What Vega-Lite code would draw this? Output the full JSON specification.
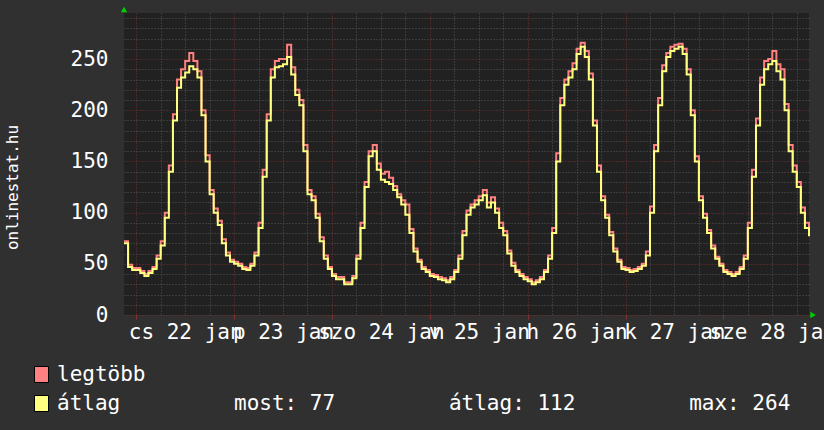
{
  "$schema": "https://vega.github.io/schema/vega-lite/v6.json",
  "width": 685,
  "height": 302,
  "autosize": {"type": "none"},
  "padding": {"left": 124, "top": 13, "right": 15, "bottom": 115},
  "background": "#303030",
  "config": {"view": {"fill": "#212121", "stroke": null}, "font": "DejaVu Sans Mono"},
  "data": {"values": [
    {"t":21,"legtöbb":72,"átlag":70},{"t":22,"legtöbb":49,"átlag":47},{"t":23,"legtöbb":46,"átlag":44},
    {"t":24,"legtöbb":46,"átlag":44},{"t":25,"legtöbb":43,"átlag":41},{"t":26,"legtöbb":40,"átlag":38},{"t":27,"legtöbb":43,"átlag":41},
    {"t":28,"legtöbb":47,"átlag":45},{"t":29,"legtöbb":58,"átlag":55},{"t":30,"legtöbb":72,"átlag":68},{"t":31,"legtöbb":100,"átlag":95},
    {"t":32,"legtöbb":146,"átlag":140},{"t":33,"legtöbb":196,"átlag":190},{"t":34,"legtöbb":230,"átlag":222},{"t":35,"legtöbb":240,"átlag":232},
    {"t":36,"legtöbb":248,"átlag":237},{"t":37,"legtöbb":256,"átlag":243},{"t":38,"legtöbb":248,"átlag":240},{"t":39,"legtöbb":238,"átlag":232},
    {"t":40,"legtöbb":200,"átlag":195},{"t":41,"legtöbb":156,"átlag":150},{"t":42,"legtöbb":122,"átlag":118},{"t":43,"legtöbb":104,"átlag":100},
    {"t":44,"legtöbb":92,"átlag":88},{"t":45,"legtöbb":74,"átlag":70},{"t":46,"legtöbb":61,"átlag":58},{"t":47,"legtöbb":54,"átlag":52},
    {"t":48,"legtöbb":52,"átlag":50},{"t":49,"legtöbb":50,"átlag":48},{"t":50,"legtöbb":47,"átlag":45},{"t":51,"legtöbb":46,"átlag":44},
    {"t":52,"legtöbb":50,"átlag":48},{"t":53,"legtöbb":61,"átlag":58},{"t":54,"legtöbb":90,"átlag":85},{"t":55,"legtöbb":142,"átlag":135},
    {"t":56,"legtöbb":196,"átlag":190},{"t":57,"legtöbb":240,"átlag":232},{"t":58,"legtöbb":248,"átlag":242},{"t":59,"legtöbb":250,"átlag":243},
    {"t":60,"legtöbb":250,"átlag":245},{"t":61,"legtöbb":264,"átlag":252},{"t":62,"legtöbb":242,"átlag":235},{"t":63,"legtöbb":220,"átlag":215},
    {"t":64,"legtöbb":210,"átlag":205},{"t":65,"legtöbb":166,"átlag":160},{"t":66,"legtöbb":122,"átlag":118},{"t":67,"legtöbb":116,"átlag":112},
    {"t":68,"legtöbb":99,"átlag":95},{"t":69,"legtöbb":76,"átlag":72},{"t":70,"legtöbb":58,"átlag":55},{"t":71,"legtöbb":47,"átlag":45},
    {"t":72,"legtöbb":40,"átlag":38},{"t":73,"legtöbb":37,"átlag":35},{"t":74,"legtöbb":37,"átlag":35},{"t":75,"legtöbb":32,"átlag":30},
    {"t":76,"legtöbb":32,"átlag":30},{"t":77,"legtöbb":38,"átlag":36},{"t":78,"legtöbb":58,"átlag":55},{"t":79,"legtöbb":90,"átlag":85},
    {"t":80,"legtöbb":130,"átlag":125},{"t":81,"legtöbb":160,"átlag":155},{"t":82,"legtöbb":166,"átlag":160},{"t":83,"legtöbb":148,"átlag":142},
    {"t":84,"legtöbb":138,"átlag":132},{"t":85,"legtöbb":140,"átlag":130},{"t":86,"legtöbb":134,"átlag":128},{"t":87,"legtöbb":126,"átlag":122},
    {"t":88,"legtöbb":118,"átlag":115},{"t":89,"legtöbb":112,"átlag":108},{"t":90,"legtöbb":108,"átlag":98},{"t":91,"legtöbb":84,"átlag":80},
    {"t":92,"legtöbb":65,"átlag":62},{"t":93,"legtöbb":54,"átlag":52},{"t":94,"legtöbb":47,"átlag":45},{"t":95,"legtöbb":44,"átlag":42},
    {"t":96,"legtöbb":40,"átlag":38},{"t":97,"legtöbb":39,"átlag":37},{"t":98,"legtöbb":37,"átlag":35},{"t":99,"legtöbb":36,"átlag":34},
    {"t":100,"legtöbb":34,"átlag":32},{"t":101,"legtöbb":37,"átlag":35},{"t":102,"legtöbb":44,"átlag":42},{"t":103,"legtöbb":58,"átlag":55},
    {"t":104,"legtöbb":82,"átlag":78},{"t":105,"legtöbb":102,"átlag":98},{"t":106,"legtöbb":108,"átlag":105},{"t":107,"legtöbb":112,"átlag":108},
    {"t":108,"legtöbb":116,"átlag":112},{"t":109,"legtöbb":122,"átlag":117},{"t":110,"legtöbb":110,"átlag":105},{"t":111,"legtöbb":115,"átlag":110},
    {"t":112,"legtöbb":104,"átlag":100},{"t":113,"legtöbb":90,"átlag":85},{"t":114,"legtöbb":82,"átlag":78},{"t":115,"legtöbb":63,"átlag":60},
    {"t":116,"legtöbb":51,"átlag":48},{"t":117,"legtöbb":44,"átlag":42},{"t":118,"legtöbb":40,"átlag":38},{"t":119,"legtöbb":37,"átlag":35},
    {"t":120,"legtöbb":35,"átlag":33},{"t":121,"legtöbb":32,"átlag":30},{"t":122,"legtöbb":34,"átlag":32},{"t":123,"legtöbb":37,"átlag":35},
    {"t":124,"legtöbb":44,"átlag":42},{"t":125,"legtöbb":58,"átlag":55},{"t":126,"legtöbb":85,"átlag":80},{"t":127,"legtöbb":158,"átlag":150},
    {"t":128,"legtöbb":212,"átlag":205},{"t":129,"legtöbb":230,"átlag":225},{"t":130,"legtöbb":238,"átlag":232},{"t":131,"legtöbb":246,"átlag":240},
    {"t":132,"legtöbb":260,"átlag":255},{"t":133,"legtöbb":266,"átlag":262},{"t":134,"legtöbb":258,"átlag":252},{"t":135,"legtöbb":236,"átlag":230},
    {"t":136,"legtöbb":190,"átlag":185},{"t":137,"legtöbb":146,"átlag":140},{"t":138,"legtöbb":116,"átlag":112},{"t":139,"legtöbb":98,"átlag":95},
    {"t":140,"legtöbb":81,"átlag":78},{"t":141,"legtöbb":65,"átlag":62},{"t":142,"legtöbb":54,"átlag":52},{"t":143,"legtöbb":47,"átlag":45},
    {"t":144,"legtöbb":46,"átlag":44},{"t":145,"legtöbb":44,"átlag":42},{"t":146,"legtöbb":45,"átlag":43},{"t":147,"legtöbb":47,"átlag":45},
    {"t":148,"legtöbb":50,"átlag":48},{"t":149,"legtöbb":62,"átlag":58},{"t":150,"legtöbb":106,"átlag":100},{"t":151,"legtöbb":166,"átlag":160},
    {"t":152,"legtöbb":212,"átlag":205},{"t":153,"legtöbb":244,"átlag":238},{"t":154,"legtöbb":256,"átlag":252},{"t":155,"legtöbb":262,"átlag":258},
    {"t":156,"legtöbb":264,"átlag":260},{"t":157,"legtöbb":265,"átlag":262},{"t":158,"legtöbb":260,"átlag":255},{"t":159,"legtöbb":240,"átlag":235},
    {"t":160,"legtöbb":200,"átlag":195},{"t":161,"legtöbb":155,"átlag":150},{"t":162,"legtöbb":116,"átlag":112},{"t":163,"legtöbb":99,"átlag":95},
    {"t":164,"legtöbb":83,"átlag":80},{"t":165,"legtöbb":68,"átlag":65},{"t":166,"legtöbb":57,"átlag":55},{"t":167,"legtöbb":50,"átlag":48},
    {"t":168,"legtöbb":44,"átlag":42},{"t":169,"legtöbb":42,"átlag":40},{"t":170,"legtöbb":40,"átlag":38},{"t":171,"legtöbb":42,"átlag":40},
    {"t":172,"legtöbb":47,"átlag":45},{"t":173,"legtöbb":58,"átlag":55},{"t":174,"legtöbb":90,"átlag":85},{"t":175,"legtöbb":142,"átlag":135},
    {"t":176,"legtöbb":192,"átlag":185},{"t":177,"legtöbb":232,"átlag":225},{"t":178,"legtöbb":248,"átlag":240},{"t":179,"legtöbb":250,"átlag":245},
    {"t":180,"legtöbb":258,"átlag":248},{"t":181,"legtöbb":245,"átlag":238},{"t":182,"legtöbb":240,"átlag":230},{"t":183,"legtöbb":206,"átlag":200},
    {"t":184,"legtöbb":166,"átlag":160},{"t":185,"legtöbb":146,"átlag":140},{"t":186,"legtöbb":130,"átlag":125},{"t":187,"legtöbb":105,"átlag":100},
    {"t":188,"legtöbb":90,"átlag":85},{"t":189,"legtöbb":80,"átlag":77}
  ]},
  "encoding": {
    "x": {
      "field": "t", "type": "quantitative",
      "scale": {"domain": [21, 189], "nice": false, "zero": false},
      "axis": {
        "title": null,
        "values": [24,30,36,42,48,54,60,66,72,78,84,90,96,102,108,114,120,126,132,138,144,150,156,162,168,174,180,186],
        "domain": false,
        "grid": true,
        "gridColor": {"condition": {"test": "datum.value % 24 === 0", "value": "#7a3030"}, "value": "#565656"},
        "gridDash": [1, 2],
        "gridOpacity": 1,
        "ticks": true,
        "tickSize": 4,
        "tickColor": {"condition": {"test": "datum.value % 24 === 0", "value": "#8a3030"}, "value": "transparent"},
        "labelExpr": "datum.value == 36 ? 'cs 22 jan' : datum.value == 60 ? 'p 23 jan' : datum.value == 84 ? 'szo 24 jan' : datum.value == 108 ? 'v 25 jan' : datum.value == 132 ? 'h 26 jan' : datum.value == 156 ? 'k 27 jan' : datum.value == 180 ? 'sze 28 jan' : ''",
        "labelFont": "DejaVu Sans Mono",
        "labelFontSize": 21,
        "labelColor": "#ffffff",
        "labelOverlap": false,
        "labelFlush": false,
        "labelBound": false,
        "labelPadding": 2
      }
    },
    "y": {
      "field": "v", "type": "quantitative",
      "scale": {"domain": [0, 295], "nice": false, "zero": true},
      "axis": {
        "title": "onlinestat.hu",
        "titleFont": "DejaVu Sans Mono",
        "titleFontSize": 16,
        "titleFontWeight": "normal",
        "titleColor": "#ffffff",
        "titleX": -112,
        "titleY": 174,
        "titleAngle": -90,
        "titleAlign": "center",
        "titleBaseline": "middle",
        "values": [0,10,20,30,40,50,60,70,80,90,100,110,120,130,140,150,160,170,180,190,200,210,220,230,240,250,260,270,280,290],
        "domain": false,
        "grid": true,
        "gridColor": {"condition": {"test": "datum.value % 50 === 0", "value": "#7a3030"}, "value": "#565656"},
        "gridDash": [1, 2],
        "gridOpacity": 1,
        "ticks": false,
        "labelExpr": "datum.value % 50 === 0 ? datum.label : ''",
        "labelFont": "DejaVu Sans Mono",
        "labelFontSize": 21,
        "labelColor": "#ffffff",
        "labelBaseline": "middle",
        "labelOverlap": false,
        "labelFlush": false,
        "labelBound": false,
        "labelPadding": 16
      }
    }
  },
  "layer": [
    {
      "transform": [{"fold": ["legtöbb", "átlag"], "as": ["s", "v"]}, {"filter": "datum.s === 'legtöbb'"}],
      "mark": {"type": "line", "interpolate": "step-after", "strokeWidth": 2, "color": "#ff8080"}
    },
    {
      "transform": [{"fold": ["legtöbb", "átlag"], "as": ["s", "v"]}, {"filter": "datum.s === 'átlag'"}],
      "mark": {"type": "line", "interpolate": "step-after", "strokeWidth": 2, "color": "#ffff80"}
    },
    {
      "transform": [{"fold": ["legtöbb", "átlag"], "as": ["s", "v"]}, {"filter": "datum.t > 1000"}],
      "mark": {"type": "point", "shape": "square", "filled": true, "opacity": 1},
      "encoding": {
        "color": {
          "field": "s", "type": "nominal",
          "scale": {"domain": ["legtöbb", "átlag"], "range": ["#ff8080", "#ffff80"]},
          "legend": {
            "title": null,
            "orient": "none",
            "legendX": -93,
            "legendY": 351,
            "padding": 0,
            "symbolType": "M-0.875,-1H0.875V1H-0.875Z",
            "symbolSize": 256,
            "symbolStrokeColor": "#000000",
            "symbolStrokeWidth": 1,
            "symbolOpacity": 1,
            "labelFont": "DejaVu Sans Mono",
            "labelFontSize": 21,
            "labelColor": "#ffffff",
            "labelLimit": 1200,
            "labelOffset": 5,
            "rowPadding": 7,
            "labelExpr": "datum.label === 'átlag' ? 'átlag\u00a0\u00a0\u00a0\u00a0\u00a0\u00a0\u00a0\u00a0\u00a0most: 77\u00a0\u00a0\u00a0\u00a0\u00a0\u00a0\u00a0\u00a0\u00a0átlag: 112\u00a0\u00a0\u00a0\u00a0\u00a0\u00a0\u00a0\u00a0\u00a0max: 264' : datum.label"
          }
        }
      }
    },
    {
      "data": {"values": [{"t": 21, "v": 298.5}]},
      "mark": {"type": "point", "shape": "triangle-up", "filled": true, "color": "#00d000", "size": 40, "opacity": 1}
    },
    {
      "data": {"values": [{"t": 190, "v": 0}]},
      "mark": {"type": "point", "shape": "triangle-right", "filled": true, "color": "#00d000", "size": 40, "opacity": 1}
    }
  ]
}
